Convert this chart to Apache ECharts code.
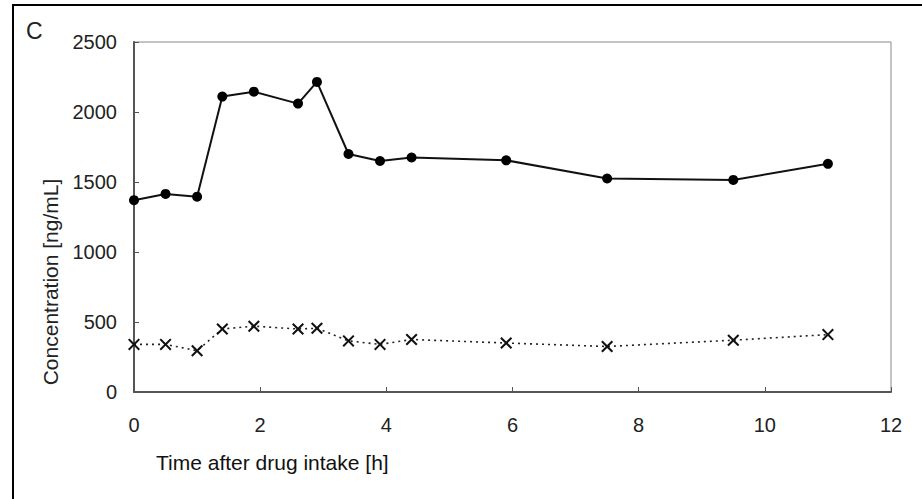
<!DOCTYPE html>
<html>
<head>
<meta charset="utf-8">
<script src="https://cdn.jsdelivr.net/npm/echarts@6/dist/echarts.min.js"></script>
<style>
html,body{margin:0;padding:0;background:#fff;}
#chart{width:922px;height:499px;}
</style>
</head>
<body>
<div id="chart"></div>
<script>
// Data
var times = [0, 0.5, 1, 1.4, 1.9, 2.6, 2.9, 3.4, 3.9, 4.4, 5.9, 7.5, 9.5, 11];
var solidValues = [1370, 1415, 1395, 2110, 2145, 2060, 2215, 1700, 1650, 1675, 1655, 1525, 1515, 1630];
var dottedValues = [340, 340, 295, 450, 470, 450, 455, 365, 340, 375, 350, 325, 370, 410];
var xTicks = [0, 2, 4, 6, 8, 10, 12];
var yTicks = [0, 500, 1000, 1500, 2000, 2500];
var panelLabel = 'C';
var xTitle = 'Time after drug intake [h]';
var yTitle = 'Concentration [ng/mL]';

function pairs(xs, ys) {
  return xs.map(function (x, i) { return [x, ys[i]]; });
}

var FONT = '"Liberation Sans", Arial, sans-serif';
var chart = echarts.init(document.getElementById('chart'), null, {renderer: 'svg'});
var xSymbol = 'path://M0,1.2 L1.2,0 L5,3.8 L8.8,0 L10,1.2 L6.2,5 L10,8.8 L8.8,10 L5,6.2 L1.2,10 L0,8.8 L3.8,5 Z';

chart.setOption({
  animation: false,
  backgroundColor: '#fff',
  grid: {
    left: 134, right: 31, top: 42, bottom: 107,
    show: true, borderColor: '#888', borderWidth: 1, backgroundColor: 'transparent'
  },
  xAxis: {
    type: 'value', min: xTicks[0], max: xTicks[xTicks.length - 1], interval: 2,
    axisLine: {show: true, onZero: false, lineStyle: {color: '#555', width: 2}},
    axisTick: {show: true, inside: true, length: 5, lineStyle: {color: '#555', width: 1}},
    splitLine: {show: false},
    axisLabel: {color: '#222', fontFamily: FONT, fontSize: 20, margin: 23,
      formatter: function (v) { return String(v); }}
  },
  yAxis: {
    type: 'value', min: yTicks[0], max: yTicks[yTicks.length - 1], interval: 500,
    axisLine: {show: true, onZero: false, lineStyle: {color: '#555', width: 2}},
    axisTick: {show: true, inside: true, length: 5, lineStyle: {color: '#555', width: 1}},
    splitLine: {show: false},
    axisLabel: {color: '#222', fontFamily: FONT, fontSize: 20, margin: 17,
      formatter: function (v) { return String(v); }}
  },
  graphic: [
    {type: 'line', shape: {x1: 13, y1: 5, x2: 13, y2: 499}, style: {stroke: '#000', lineWidth: 2}},
    {type: 'line', shape: {x1: 12, y1: 5, x2: 922, y2: 5}, style: {stroke: '#000', lineWidth: 2}},
    {type: 'text', left: 26, top: 19, style: {text: panelLabel, font: '23px ' + FONT, fill: '#222'}},
    {type: 'text', left: 156, top: 452, style: {text: xTitle, font: '21px ' + FONT, fill: '#111'}},
    {type: 'text', x: 50, y: 282, rotation: Math.PI / 2,
      style: {text: yTitle, font: '21px ' + FONT, fill: '#222', textAlign: 'center', textVerticalAlign: 'middle'}}
  ],
  series: [
    {
      type: 'line', data: pairs(times, solidValues),
      symbol: 'circle', symbolSize: 10,
      lineStyle: {color: '#111', width: 2},
      itemStyle: {color: '#000'}
    },
    {
      type: 'line', data: pairs(times, dottedValues),
      symbol: xSymbol, symbolSize: 12,
      lineStyle: {color: '#222', width: 1.6, type: [2, 4]},
      itemStyle: {color: '#111'}
    }
  ]
});
</script>
</body>
</html>
